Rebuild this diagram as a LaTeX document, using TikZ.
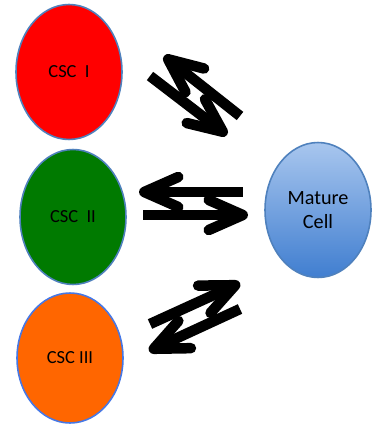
\documentclass[tikz,border=0pt]{standalone}
\usepackage{fontspec}
\setmainfont{Carlito}
\usetikzlibrary{arrows.meta,shapes.geometric}

\definecolor{cellline}{RGB}{79,129,189}
\definecolor{cscred}{RGB}{255,0,0}
\definecolor{cscgreen}{RGB}{0,122,0}
\definecolor{cscorange}{RGB}{255,102,0}
\definecolor{maturetop}{RGB}{168,198,238}
\definecolor{maturebot}{RGB}{64,126,208}

\tikzset{
  cell/.style={ellipse, draw=cellline, line width=0.9pt, minimum width=2.12cm, minimum height=2.7cm, inner sep=0pt, font=\fontsize{10.5}{12}\selectfont},
  conv/.style={line width=0.21cm, {Straight Barb[round,length=0.68cm,width=0.6cm]}-}
}

\begin{document}
\begin{tikzpicture}[x=0.02cm, y=-0.02cm]
\fill[white] (0,0) rectangle (374,425);
\useasboundingbox (0,0) rectangle (374,425);

\node[cell, fill=cscred] (csc1) at (69,72) {CSC~ I};
\node[cell, fill=cscgreen] (csc2) at (73,217) {CSC~ II};
\node[cell, fill=cscorange, minimum height=2.6cm, draw={rgb,255:red,70;green,120;blue,230}] (csc3) at (70,358) {CSC III};
\node[cell, top color=maturetop, bottom color=maturebot, font=\fontsize{11.5}{14}\selectfont, align=center] (mature) at (318,210) {Mature\\Cell};

% arrow ends
\coordinate (a1) at (164,56);
\coordinate (b1) at (240,116);
\coordinate (a2) at (227,135);
\coordinate (b2) at (150,76);
\coordinate (a3) at (139,192);
\coordinate (b3) at (243,192);
\coordinate (a4) at (248,215);
\coordinate (b4) at (143,215);
\coordinate (a5) at (240,283);
\coordinate (b5) at (150,324);
\coordinate (a6) at (149,351);
\coordinate (b6) at (240,309);

\draw[conv] (a1) -- (b1);
\draw[conv] (a2) -- (b2);
\draw[conv] (a3) -- (b3);
\draw[conv] (a4) -- (b4);
\draw[conv] (a5) -- (b5);
\draw[conv] (a6) -- (b6);
\end{tikzpicture}
\end{document}
